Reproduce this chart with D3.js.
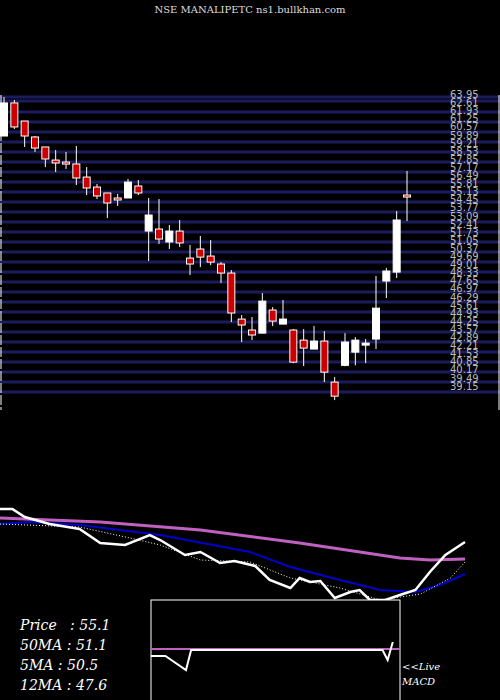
<!DOCTYPE html>
<html><head><meta charset="utf-8">
<script src="https://cdn.jsdelivr.net/npm/d3@7"></script>
<style>body{margin:0;background:#000}</style></head>
<body><div id="chart"></div>
<script>
// candles: open, high, low, close
const opens  = [60.67,63.45,61.93,60.59,59.75,58.65,58.48,58.32,57.22,56.38,55.88,55.46,55.46,56.47,52.68,52.85,51.76,52.68,50.41,51.17,50.58,49.91,49.15,45.28,44.36,44.10,46.04,44.86,44.36,43.51,42.76,43.43,39.98,41.39,42.50,43.18,43.60,48.48,49.23,55.71];
const highs  = [63.95,63.70,61.93,60.67,59.75,59.49,59.33,59.83,58.06,56.64,55.88,55.80,57.06,56.97,55.46,55.37,53.19,53.61,51.51,52.26,51.92,50.07,49.40,45.62,45.45,47.47,46.29,46.88,44.44,44.44,44.69,44.27,40.40,44.10,43.76,43.60,48.90,49.57,54.36,57.73];
const lows   = [60.67,61.26,59.75,59.33,58.06,57.64,57.90,56.55,55.71,55.37,53.78,54.79,55.46,55.71,50.16,51.59,51.17,51.34,48.98,49.65,49.82,48.31,45.03,43.35,43.51,44.10,44.69,44.86,41.58,41.33,42.76,39.98,38.47,41.31,41.39,41.58,42.76,47.05,48.73,53.52];
const closes = [63.45,61.43,60.67,59.66,58.74,58.40,58.32,57.14,56.30,55.63,55.04,55.37,56.80,55.88,54.03,52.01,52.68,51.68,49.91,50.49,50.07,49.15,45.79,44.78,43.94,46.79,45.11,45.28,41.66,42.84,43.43,40.82,38.80,43.35,43.51,43.26,46.20,49.32,53.61,55.54];
const gridLabels = ["63.95","62.61","61.93","61.25","60.57","59.89","59.21","58.53","57.85","57.17","56.49","55.81","55.13","54.45","53.77","53.09","52.41","51.73","51.05","50.37","49.69","49.01","48.33","47.65","46.97","46.29","45.61","44.93","44.25","43.57","42.89","42.21","41.53","40.85","40.17","39.49","39.15"];
// lower panel lines: [position, value]
const priceLine = [[0,64],[1.2,64],[2.4,62],[4.8,60.25],[7.7,59],[9.7,55.5],[12.1,55],[14.5,57.5],[15.5,56.25],[17.9,52.5],[19.4,53.25],[21.3,50.5],[22.7,51],[24.7,49.75],[26.1,46.25],[28.1,44.25],[29,46.75],[30,45.75],[31,46],[32.4,41.75],[33.9,43.25],[34.8,43.75],[35.8,41.25],[37.3,41.25],[38.7,42.5],[40.2,43.75],[41.6,48.25],[43.1,52.5],[45,55.75]];
const ma50Line  = [[0,61.75],[9.7,60.75],[19.4,58.75],[29,55.5],[38.7,51.75],[41.6,51.25],[45,51.5]];
const ma12Line  = [[0,60.25],[2.9,60.75],[7.7,60],[15.5,57.5],[24.2,53.25],[28.1,49.5],[32.9,46.25],[36.8,43.75],[40.2,43.25],[42.6,45],[45,47.75]];
const ma5Line   = [[0,60.25],[7.7,59.5],[12.6,56.75],[15.5,55],[19.4,51.25],[24.2,50.75],[28.1,46.75],[32.9,44.25],[36.8,41.25],[40.7,42.75],[43.6,46.75],[45,50.75]];
const macdLine  = [[0,-0.6],[1.4,-0.6],[3.4,-2],[3.9,0],[22.5,0],[23,-1],[23.5,0.8]];
const macdSignal= [[0,0.1],[24.2,0.1]];
const infoTexts = ["Price   : 55.1","50MA : 51.1","5MA : 50.5","12MA : 47.6"];

const W = 500, H = 700;
const svg = d3.select("#chart").append("svg").attr("width", W).attr("height", H)
  .style("background", "#000");

svg.append("text").attr("x", 250).attr("y", 13).attr("text-anchor", "middle")
  .attr("fill", "#ddd").attr("font-family", "DejaVu Serif").attr("font-size", 10)
  .text("NSE MANALIPETC ns1.bullkhan.com");

let y = d3.scaleLinear().domain([63.95, 39.15]).range([97, 392]);
let x = d3.scaleLinear().domain([0, 39]).range([4, 407]);

// grid
let gy = [97, 101].concat(d3.range(29).map(i => 112 + i * 10));
svg.selectAll(".grid").data(gy).enter().append("line")
  .attr("x1", 0).attr("x2", 500).attr("y1", d => d).attr("y2", d => d)
  .attr("stroke", "#1c1c5c").attr("stroke-width", 3);
svg.selectAll(".glab").data(gridLabels).enter().append("text")
  .attr("x", 450).attr("y", (d, i) => 98 + i * 8.1)
  .attr("fill", "#bbb").attr("font-family", "DejaVu Sans").attr("font-size", 10)
  .text(d => d);
svg.append("line").attr("x1", 1).attr("x2", 1).attr("y1", 95).attr("y2", 410)
  .attr("stroke", "#fff").attr("stroke-dasharray", "10,2");
svg.append("line").attr("x1", 499).attr("x2", 499).attr("y1", 95).attr("y2", 410)
  .attr("stroke", "#fff");

const idx = d3.range(opens.length);
svg.selectAll(".wick").data(idx).enter().append("line")
  .attr("x1", i => x(i)).attr("x2", i => x(i))
  .attr("y1", i => y(highs[i])).attr("y2", i => y(lows[i]))
  .attr("stroke", "#fff");
svg.selectAll(".body").data(idx).enter().append("rect")
  .attr("x", i => x(i) - 3.5).attr("width", 7)
  .attr("y", i => y(Math.max(opens[i], closes[i])))
  .attr("height", i => Math.max(2, Math.abs(y(opens[i]) - y(closes[i]))))
  .attr("fill", i => closes[i] >= opens[i] ? "#fff" : "#cc0000")
  .attr("stroke", "#fff").attr("stroke-width", 1);

// lower panel
let bx = d3.scaleLinear().domain([0, 45]).range([0, 465]);
let by = d3.scaleLinear().domain([65, 40]).range([505, 605]);
let line = d3.line().x(d => bx(d[0])).y(d => by(d[1]));
const lp = svg.append("g");
lp.append("path").datum(ma50Line).attr("d", line).attr("fill", "none").attr("stroke", "#c060c0").attr("stroke-width", 3);
lp.append("path").datum(ma12Line).attr("d", line).attr("fill", "none").attr("stroke", "#0000cc").attr("stroke-width", 2);
lp.append("path").datum(ma5Line).attr("d", line).attr("fill", "none").attr("stroke", "#fff").attr("stroke-width", 1).attr("stroke-dasharray", "1,2");
lp.append("path").datum(priceLine).attr("d", line).attr("fill", "none").attr("stroke", "#fff").attr("stroke-width", 2.5);

// MACD box
svg.append("rect").attr("x", 151).attr("y", 600).attr("width", 249).attr("height", 102)
  .attr("fill", "#000").attr("stroke", "#fff");
let mx = d3.scaleLinear().domain([0, 24.2]).range([151, 400]);
let my = d3.scaleLinear().domain([5, -5]).range([600, 700]);
let mline = d3.line().x(d => mx(d[0])).y(d => my(d[1]));
svg.append("path").datum(macdSignal).attr("d", mline).attr("fill", "none").attr("stroke", "#c060c0").attr("stroke-width", 2);
svg.append("path").datum(macdLine).attr("d", mline).attr("fill", "none").attr("stroke", "#fff").attr("stroke-width", 2);

svg.selectAll(".info").data(infoTexts).enter().append("text")
  .attr("x", 20).attr("y", (d, i) => 630 + i * 20)
  .attr("fill", "#fff").attr("font-family", "DejaVu Serif").attr("font-style", "italic").attr("font-size", 14)
  .attr("xml:space", "preserve").style("white-space", "pre")
  .text(d => d);
svg.append("text").attr("x", 402).attr("y", 670).attr("fill", "#fff").attr("font-family", "DejaVu Serif")
  .attr("font-style", "italic").attr("font-size", 10).text("<<Live");
svg.append("text").attr("x", 402).attr("y", 685).attr("fill", "#fff").attr("font-family", "DejaVu Serif")
  .attr("font-style", "italic").attr("font-size", 10).text("MACD");
</script></body></html>
